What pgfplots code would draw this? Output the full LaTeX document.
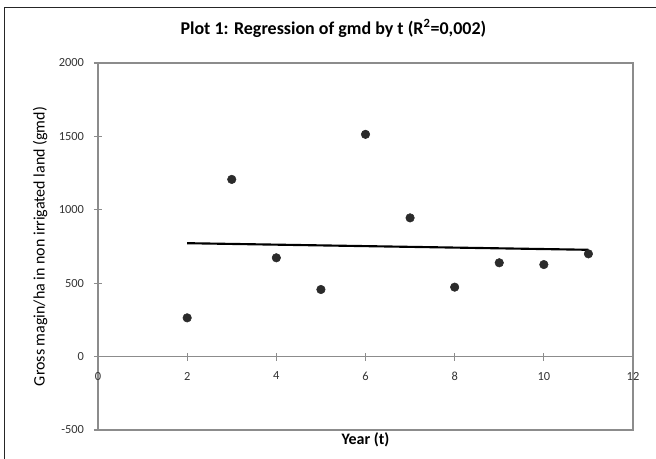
\documentclass[border=0pt]{standalone}
\usepackage{pgfplots}
\pgfplotsset{compat=1.18}
\usepackage{fontspec}
\setmainfont{Carlito}
\definecolor{axgray}{HTML}{8C8C8C}
\definecolor{dotc}{HTML}{2B2B2B}
\begin{document}
\begin{tikzpicture}
\useasboundingbox (-73.5pt,-21.75pt) rectangle (418.5pt,322.5pt);
% outer frame of the figure (left and top edges only are visible)
\draw[black!85,line width=0.7pt] (-70.5pt,-21.75pt) -- (-70.5pt,317.25pt) -- (418.5pt,317.25pt);
% frame, title and x label
\begin{axis}[at={(0,0)},anchor=south west,scale only axis,width=401.25pt,height=275.25pt,
  xmin=0,xmax=12,ymin=-500,ymax=2000,xtick=\empty,ytick=\empty,
  axis line style={draw=axgray,line width=1.1pt},
  title={\bfseries Plot 1: Regression of gmd by t (R\textsuperscript{2}=0,002)},
  title style={font=\fontsize{13.5}{15}\selectfont,at={(axis description cs:0.44,1.073)},anchor=center},
  xlabel={\bfseries Year (t)},
  xlabel style={font=\fontsize{12}{13}\selectfont,at={(axis description cs:0.5,-0.027)},anchor=center}]
\end{axis}
% axes through zero, data
\begin{axis}[at={(0,0)},anchor=south west,scale only axis,width=401.25pt,height=275.25pt,
  xmin=0,xmax=12,ymin=-500,ymax=2000,
  axis x line=middle,axis y line=left,
  axis line style={-,draw=axgray,line width=1.1pt},
  hide obscured x ticks=false,hide obscured y ticks=false,
  xtick={0,2,...,12},ytick={-500,0,...,2000},
  tick align=center,major tick length=6pt,
  tick style={draw=axgray,line width=0.9pt},
  /pgf/number format/assume math mode=true,
  /pgf/number format/1000 sep={},
  tick label style={font=\fontsize{9.3}{11}\selectfont,text=black!80},
  xticklabel style={anchor=north,yshift=-5pt},
  yticklabel style={xshift=-4pt},
  ylabel={Gross magin/ha in non irrigated land (gmd)},
  ylabel style={font=\fontsize{12}{14}\selectfont,at={(axis description cs:-0.108,0.5)},anchor=center,rotate=0}]
\addplot[only marks,mark=*,mark size=3.2pt,mark options={fill=dotc,draw=dotc}] coordinates {
(2,264)(3,1207)(4,673)(5,457)(6,1514)(7,945)(8,473)(9,639)(10,627)(11,700)};
\addplot[black,line width=1.6pt] coordinates {(2,772.5)(11,727.5)};
\end{axis}
\end{tikzpicture}
\end{document}
